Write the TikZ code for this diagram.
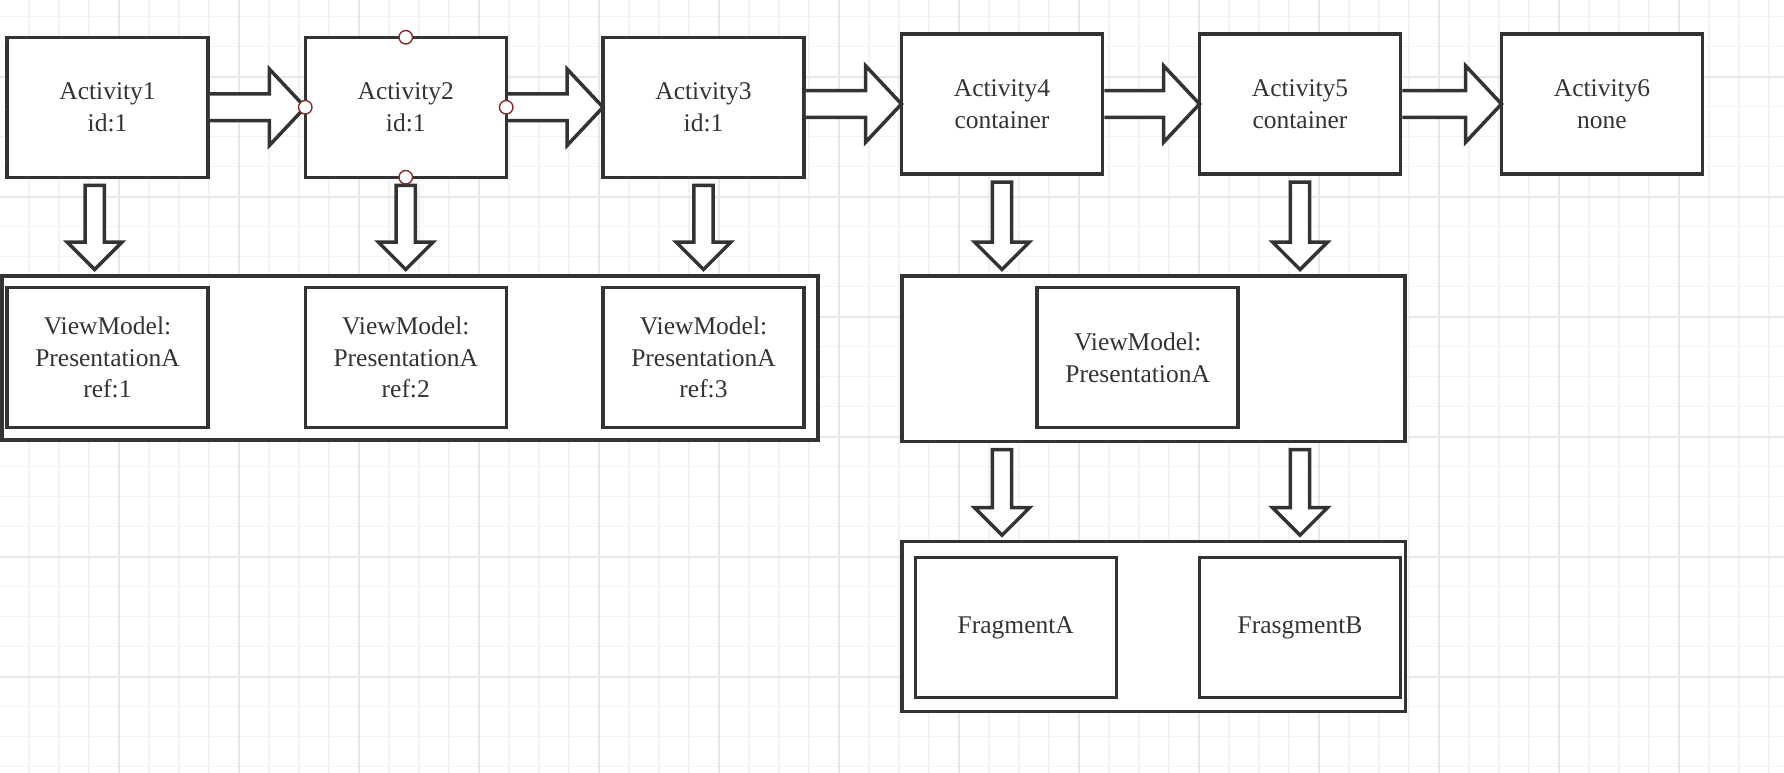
\documentclass[tikz,border=0pt]{standalone}
\usepackage{fontspec}
\setmainfont{Liberation Serif}
\usepackage{tikz}
\usetikzlibrary{calc,positioning}
\definecolor{ink}{HTML}{333333}
\definecolor{handlecol}{HTML}{7F2F2F}
\definecolor{gridmin}{HTML}{F2F2F2}
\definecolor{gridmaj}{HTML}{E8E8E8}
\tikzset{
node distance=298pt, % spacing of the activity row
box/.style={draw=ink, line width=3.5pt, fill=white, text=ink, align=center,
  inner sep=0pt, outer sep=0pt, minimum width=201pt, minimum height=140pt,
  font=\fontsize{25.5}{31.7}\selectfont},
group/.style={draw=ink, line width=3.5pt, fill=white, inner sep=0pt, outer sep=0pt},
% block arrow pointing right, tail sits on the box border
fat right/.style={draw=ink, line width=3.5pt, fill=white,
  to path={let \p1=(\tikztostart), \p2=(\tikztotarget) in
    (\x1+1.75pt,\y2+13.3pt) -- (\x2-36pt,\y2+13.3pt) -- (\x2-36pt,\y2+38.3pt) -- (\x2,\y2)
    -- (\x2-36pt,\y2-38.3pt) -- (\x2-36pt,\y2-13.3pt) -- (\x1+1.75pt,\y2-13.3pt)}},
% block arrow pointing down
fat down/.style={draw=ink, line width=3.5pt, fill=white,
  to path={let \p1=(\tikztostart), \p2=(\tikztotarget) in
    (\x1-9.7pt,\y1-8pt) -- (\x1+9.7pt,\y1-8pt) -- (\x1+9.7pt,\y2+34pt) -- (\x1+27.5pt,\y2+34pt)
    -- (\x1,\y2+6.5pt) -- (\x1-27.5pt,\y2+34pt) -- (\x1-9.7pt,\y2+34pt) -- cycle}},
handle/.style={circle, draw=handlecol, fill=white, line width=1.4pt, minimum size=13.5pt, inner sep=0pt},
}

\begin{document}
\begin{tikzpicture}[on grid]
\useasboundingbox (0,0) rectangle (1784pt,-772pt);
% grid paper
\begin{scope}
\clip (0,0) rectangle (1784pt,-772pt);
\draw[gridmin, line width=1.5pt, step=30pt, xshift=-1pt, yshift=13.3pt] (-60pt,-840pt) grid (1860pt,60pt);
\draw[gridmaj, line width=2pt, step=120pt, xshift=-1pt, yshift=43.3pt] (-240pt,-960pt) grid (1920pt,120pt);
\end{scope}

% containers
\node[group, minimum width=816pt, minimum height=164pt] (grp_vm) at (410pt,-358pt) {};
\node[group, minimum width=503pt, minimum height=165.7pt] (grp_c) at (1153.5pt,-358.85pt) {};
\node[group, minimum width=503.5pt, minimum height=170pt] (grp_frag) at (1153.75pt,-626.7pt) {};

\node[box] (act_1) at (107.5pt,-107.25pt) {Activity1\\id:1};
\node[box] (act_2) [right=298.25pt of act_1] {Activity2\\id:1};
\node[box] (act_3) [right=297.75pt of act_2] {Activity3\\id:1};
\node[box] (act_4) [above right=3.25pt and 298.5pt of act_3] {Activity4\\container};
\node[box] (act_5) [right=of act_4] {Activity5\\container};
\node[box] (act_6) [right=302pt of act_5] {Activity6\\none};

\node[box] (vm_1) [below=250.25pt of act_1] {ViewModel:\\PresentationA\\ref:1};
\node[box] (vm_2) [below=250.25pt of act_2] {ViewModel:\\PresentationA\\ref:2};
\node[box] (vm_3) [below=250.25pt of act_3] {ViewModel:\\PresentationA\\ref:3};
\node[box] (vm_c) [below right=253.6pt and 135.7pt of act_4] {ViewModel:\\PresentationA};
\node[box] (frag_a) [below right=523.5pt and 13.75pt of act_4] {FragmentA};
\node[box] (frag_b) [below=523.5pt of act_5] {FrasgmentB};

\draw[fat right] (act_1.east) to (act_2.west);
\draw[fat right] (act_2.east) to (act_3.west);
\draw[fat right] (act_3.east) to (act_4.west);
\draw[fat right] (act_4.east) to (act_5.west);
\draw[fat right] (act_5.east) to (act_6.west);

\coordinate (tail_1) at ([xshift=-12.8pt]act_1.south);
\coordinate (tail_a) at (act_4 |- grp_c.south);
\coordinate (tail_b) at (act_5 |- grp_c.south);
\draw[fat down] (tail_1) to (grp_vm.north);
\draw[fat down] (act_2.south) to (grp_vm.north);
\draw[fat down] (act_3.south) to (grp_vm.north);
\draw[fat down] (act_4.south) to (grp_c.north);
\draw[fat down] (act_5.south) to (grp_c.north);
\draw[fat down] (tail_a) to (grp_frag.north);
\draw[fat down] (tail_b) to (grp_frag.north);

% selection handles on Activity2
\foreach \side in {north,south,east,west}
  \node[handle] (h_\side) at (act_2.\side) {};
\end{tikzpicture}
\end{document}
